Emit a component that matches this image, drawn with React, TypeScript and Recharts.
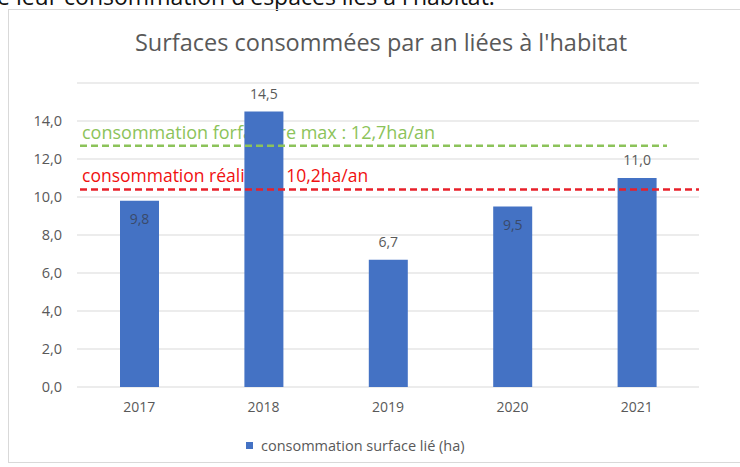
import React from "react";
import {
  BarChart,
  Bar,
  XAxis,
  YAxis,
  CartesianGrid,
  ReferenceLine,
  LabelList,
} from "recharts";

const YEARS = ["2017", "2018", "2019", "2020", "2021"];
const SURFACE = [9.8, 14.5, 6.7, 9.5, 11.0];
const Y_TICKS = [0, 2, 4, 6, 8, 10, 12, 14];

const FORFAIT_MAX = 12.7;
const REALISEE = 10.4;
const FORFAIT_LABEL = "consommation forfaitaire max : 12,7ha/an";
const REALISEE_LABEL = "consommation réalisée : 10,2ha/an";

const TITLE = "Surfaces consommées par an liées à l'habitat";
const SERIES_NAME = "consommation surface lié (ha)";
const PAGE_TEXT = "e leur consommation d'espaces liés à l'habitat.";

const data = YEARS.map((year, i) => ({ year, surface: SURFACE[i] }));

const FONT = "'Open Sans', Lato, sans-serif";
const BLUE = "#4472C4";
const GREEN = "#8CC35A";
const RED = "#E8202A";

const fr = (v: number) => v.toFixed(1).replace(".", ",");

function ValueLabel(props: any) {
  const { x, y, width, value, index } = props;
  // these two sit inside the bar, just under the top edge
  const inside = index === 0 || index === 3;
  return (
    <text
      x={x + width / 2}
      y={inside ? y + 23 : y - 13}
      textAnchor="middle"
      fontSize={14}
      fill={inside ? "#3a4a6a" : "#595959"}
      fontFamily={FONT}
    >
      {fr(value)}
    </text>
  );
}

// text drawn under the bars, as in the source chart
function RefText({ x1, y1, text, color, size }: any) {
  return (
    <text x={x1 + 5} y={y1 - 7} fontSize={size} fill={color} fontFamily={FONT}>
      {text}
    </text>
  );
}

function DashedLine({ x1, x2, y1, stroke, trimRight }: any) {
  return (
    <line
      x1={x1 + 3}
      x2={x2 - trimRight}
      y1={y1}
      y2={y1}
      stroke={stroke}
      strokeWidth={2.5}
      strokeDasharray="7 4"
    />
  );
}

export default function App() {
  return (
    <div
      style={{
        position: "absolute",
        left: 0,
        top: 0,
        width: 740,
        height: 467,
        overflow: "hidden",
        background: "#fff",
        fontFamily: FONT,
      }}
    >
      <div
        style={{
          position: "absolute",
          left: -3,
          top: -19,
          fontSize: 23,
          color: "#111",
          whiteSpace: "nowrap",
          lineHeight: "30px",
        }}
      >
        {PAGE_TEXT}
      </div>
      <div
        style={{
          position: "absolute",
          left: 8,
          top: 9,
          width: 760,
          height: 452,
          border: "1px solid #d9d9d9",
        }}
      />
      <div
        style={{
          position: "absolute",
          left: 0,
          top: 26,
          width: 740,
          textAlign: "center",
          paddingLeft: 22,
          boxSizing: "border-box",
          fontSize: 23.5,
          color: "#595959",
          whiteSpace: "nowrap",
        }}
      >
        {TITLE}
      </div>
      <div style={{ position: "absolute", left: 0, top: 0 }}>
        <BarChart
          width={740}
          height={467}
          data={data}
          margin={{ top: 83, right: 41, left: 0, bottom: 50 }}
        >
          <CartesianGrid vertical={false} stroke="#d9d9d9" strokeWidth={1} />
          <XAxis
            dataKey="year"
            axisLine={false}
            tickLine={false}
            height={30}
            tickMargin={9}
            tick={{ fontSize: 14, fill: "#595959" }}
          />
          <YAxis
            domain={[0, 16]}
            ticks={Y_TICKS}
            width={77}
            axisLine={false}
            tickLine={false}
            tickMargin={9}
            tickFormatter={fr}
            tick={{ fontSize: 14.5, fill: "#595959" }}
          />
          <ReferenceLine
            y={FORFAIT_MAX}
            zIndex={100}
            shape={(p: any) => (
              <RefText {...p} text={FORFAIT_LABEL} color={GREEN} size={18} />
            )}
          />
          <ReferenceLine
            y={REALISEE}
            zIndex={100}
            shape={(p: any) => (
              <RefText {...p} text={REALISEE_LABEL} color="#F01010" size={17.5} />
            )}
          />
          <Bar
            dataKey="surface"
            fill={BLUE}
            barSize={39}
            isAnimationActive={false}
          >
            <LabelList dataKey="surface" content={<ValueLabel />} />
          </Bar>
          <ReferenceLine
            y={FORFAIT_MAX}
            shape={(p: any) => (
              <DashedLine {...p} stroke={GREEN} trimRight={32} />
            )}
          />
          <ReferenceLine
            y={REALISEE}
            shape={(p: any) => <DashedLine {...p} stroke={RED} trimRight={0} />}
          />
        </BarChart>
      </div>
      <div
        style={{
          position: "absolute",
          left: 246,
          top: 436,
          display: "flex",
          alignItems: "center",
          fontSize: 14.5,
          color: "#595959",
          whiteSpace: "nowrap",
        }}
      >
        <span
          style={{
            display: "inline-block",
            width: 7,
            height: 7,
            background: BLUE,
            marginRight: 8,
          }}
        />
        {SERIES_NAME}
      </div>
    </div>
  );
}
